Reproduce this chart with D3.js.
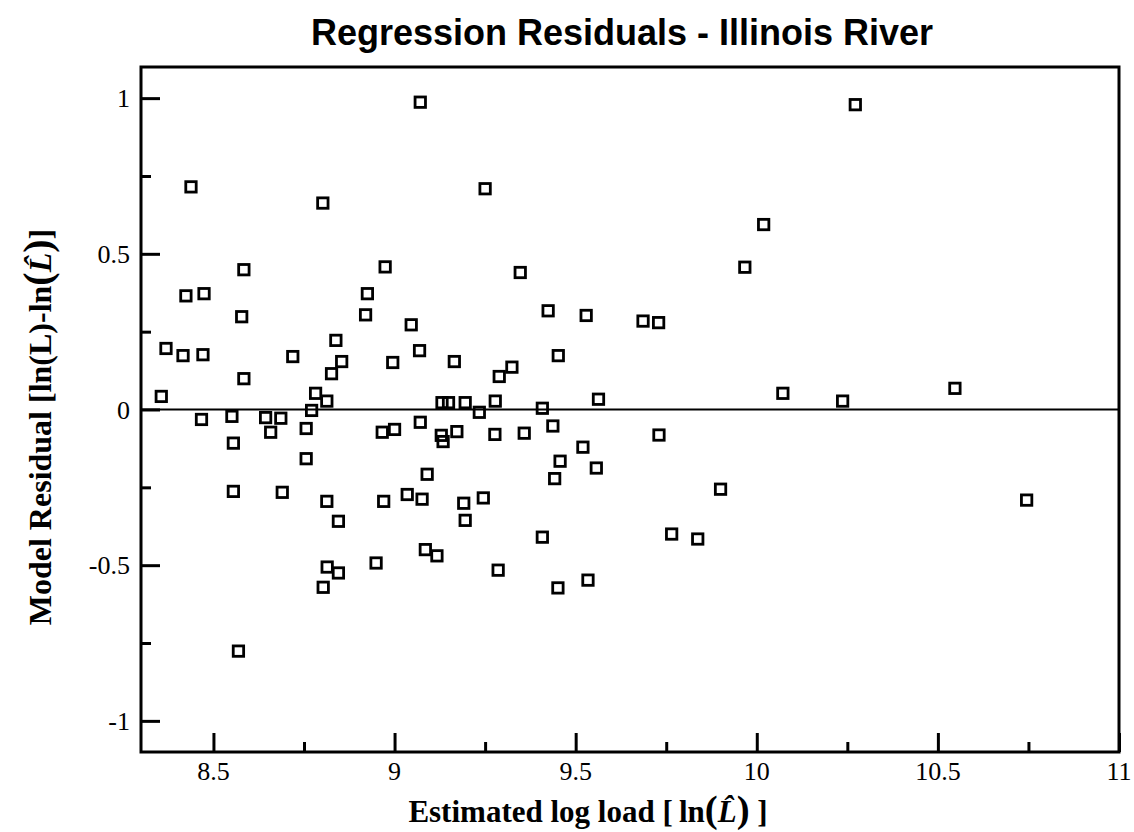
<!DOCTYPE html>
<html>
<head>
<meta charset="utf-8">
<script src="https://cdn.jsdelivr.net/npm/d3@7"></script>
<style>
  html, body { margin: 0; padding: 0; background: #fff; }
  svg { display: block; }
</style>
</head>
<body>
<svg id="chart" width="1134" height="832"></svg>
<script>
// ---- data ----
const estLogLoad = [
  9.071, 8.438, 8.802, 8.584, 8.974, 8.424, 8.474, 8.925, 8.578, 8.920,
  9.046, 8.369, 8.416, 8.471, 8.719, 8.838, 8.854, 8.995, 9.069, 9.165,
  8.584, 8.826, 8.356, 8.782, 8.813, 9.131, 9.149, 9.195, 8.771,
  8.467, 8.551, 8.644, 8.686, 8.658, 8.756, 8.555, 8.756, 8.966, 9.000,
  9.071, 9.129, 9.134, 9.172, 9.090, 8.555, 8.690, 8.813, 8.970, 9.035,
  9.076, 9.191, 9.195, 8.845, 9.085, 9.117, 8.949, 8.814, 8.845, 8.803,
  8.569,
  9.250, 10.019, 9.967, 9.347, 9.424, 9.529, 9.686, 9.729, 9.452, 9.324,
  9.289, 10.072, 9.563, 9.278, 9.234, 9.408,
  9.277, 9.358, 9.437, 9.730, 9.520, 9.457, 9.557, 9.442, 9.900, 9.245,
  9.408, 9.765, 9.837, 9.286, 9.534, 9.451,
  10.272, 10.547, 10.237, 10.745
];
const residuals = [
  0.987, 0.715, 0.663, 0.449, 0.458, 0.365, 0.372, 0.372, 0.298, 0.304,
  0.272, 0.196, 0.173, 0.176, 0.170, 0.222, 0.154, 0.151, 0.189, 0.154,
  0.099, 0.115, 0.042, 0.052, 0.027, 0.022, 0.022, 0.022, -0.003,
  -0.032, -0.022, -0.026, -0.028, -0.073, -0.061, -0.108, -0.158, -0.073, -0.064,
  -0.041, -0.083, -0.103, -0.071, -0.208, -0.263, -0.266, -0.295, -0.295, -0.273,
  -0.288, -0.301, -0.356, -0.359, -0.450, -0.470, -0.493, -0.506, -0.525, -0.571,
  -0.776,
  0.709, 0.594, 0.457, 0.440, 0.317, 0.302, 0.284, 0.279, 0.173, 0.136,
  0.106, 0.052, 0.033, 0.027, -0.009, 0.004,
  -0.080, -0.076, -0.053, -0.082, -0.121, -0.166, -0.188, -0.222, -0.256, -0.284,
  -0.410, -0.400, -0.416, -0.516, -0.548, -0.573,
  0.979, 0.068, 0.027, -0.291
];
const xDomain = [8.3, 11];
const yDomain = [-1.1, 1.1];
const xMajorTicks = [8.5, 9, 9.5, 10, 10.5, 11];
const xMinorTicks = [8.75, 9.25, 9.75, 10.25, 10.75];
const yMajorTicks = [-1, -0.5, 0, 0.5, 1];
const yMinorTicks = [-0.75, -0.25, 0.25, 0.75];
const titleText = "Regression Residuals - Illinois River";

// ---- layout ----
const W = 1134, H = 832;
const plot = { left: 141, right: 1119, top: 67, bottom: 752 };
const serif = "'Liberation Serif', 'Times New Roman', serif";
const sans = "'Liberation Sans', Arial, Helvetica, sans-serif";

const svg = d3.select("#chart");
svg.append("rect").attr("width", W).attr("height", H).attr("fill", "#fff");

const x = d3.scaleLinear().domain(xDomain).range([plot.left, plot.right]);
const y = d3.scaleLinear().domain(yDomain).range([plot.bottom, plot.top]);

// zero line
svg.append("line")
  .attr("x1", plot.left).attr("x2", plot.right)
  .attr("y1", y(0)).attr("y2", y(0))
  .attr("stroke", "#000").attr("stroke-width", 1.8);

// points
const pts = estLogLoad.map((v, i) => ({ x: v, y: residuals[i] }));
const S = 10.4;
svg.append("g").selectAll("rect").data(pts).join("rect")
  .attr("x", d => x(d.x) - S / 2)
  .attr("y", d => y(d.y) - S / 2)
  .attr("width", S).attr("height", S)
  .attr("fill", "none").attr("stroke", "#000").attr("stroke-width", 2.8);

// axes (ticks inward, via d3 axes)
const fmt = d => (d < 0 ? "-" : "") + String(Math.abs(d));
const xAxisMajor = d3.axisTop(x).tickValues(xMajorTicks).tickSize(19).tickFormat("");
const xAxisMinor = d3.axisTop(x).tickValues(xMinorTicks).tickSize(10).tickFormat("");
const yAxisMajor = d3.axisRight(y).tickValues(yMajorTicks).tickSize(19).tickFormat("");
const yAxisMinor = d3.axisRight(y).tickValues(yMinorTicks).tickSize(10).tickFormat("");

function styleAxis(g) {
  g.select(".domain").remove();
  g.selectAll(".tick line").attr("stroke", "#000").attr("stroke-width", 3);
}
svg.append("g").attr("transform", `translate(0,${plot.bottom})`).call(xAxisMajor).call(styleAxis);
svg.append("g").attr("transform", `translate(0,${plot.bottom})`).call(xAxisMinor).call(styleAxis);
svg.append("g").attr("transform", `translate(${plot.left},0)`).call(yAxisMajor).call(styleAxis);
svg.append("g").attr("transform", `translate(${plot.left},0)`).call(yAxisMinor).call(styleAxis);

// tick labels
svg.append("g").selectAll("text").data(xMajorTicks).join("text")
  .attr("x", d => x(d)).attr("y", 780)
  .attr("text-anchor", "middle")
  .attr("font-family", serif).attr("font-size", 26)
  .text(fmt);
svg.append("g").selectAll("text").data(yMajorTicks).join("text")
  .attr("x", 130).attr("y", d => y(d) + 9)
  .attr("text-anchor", "end")
  .attr("font-family", serif).attr("font-size", 26)
  .text(fmt);

// frame
svg.append("rect")
  .attr("x", plot.left).attr("y", plot.top)
  .attr("width", plot.right - plot.left).attr("height", plot.bottom - plot.top)
  .attr("fill", "none").attr("stroke", "#000").attr("stroke-width", 3);

// title
svg.append("text")
  .attr("x", 622).attr("y", 45)
  .attr("text-anchor", "middle")
  .attr("font-family", sans).attr("font-weight", "bold").attr("font-size", 36)
  .text(titleText);

// axis label as one text element: enlarged parentheses around italic L with a combining hat
function mathLabel(g, before, after, fontSize) {
  const t = g.append("text")
    .attr("x", 0).attr("y", 0)
    .attr("text-anchor", "middle")
    .attr("font-family", serif).attr("font-weight", "bold")
    .attr("font-size", fontSize);
  t.append("tspan").text(before);
  t.append("tspan").attr("font-size", fontSize * 1.25).text("(");
  t.append("tspan").attr("font-style", "italic").text("L\u0302");
  t.append("tspan").attr("font-size", fontSize * 1.25).text(")");
  t.append("tspan").text(after);
}

const xl = svg.append("g").attr("transform", "translate(588,822)");
mathLabel(xl, "Estimated log load [\u2009ln", " ]", 31);

const yl = svg.append("g").attr("transform", "translate(51,427) rotate(-90)");
mathLabel(yl, "Model Residual [ln(L)-ln", "]", 32);
</script>
</body>
</html>
